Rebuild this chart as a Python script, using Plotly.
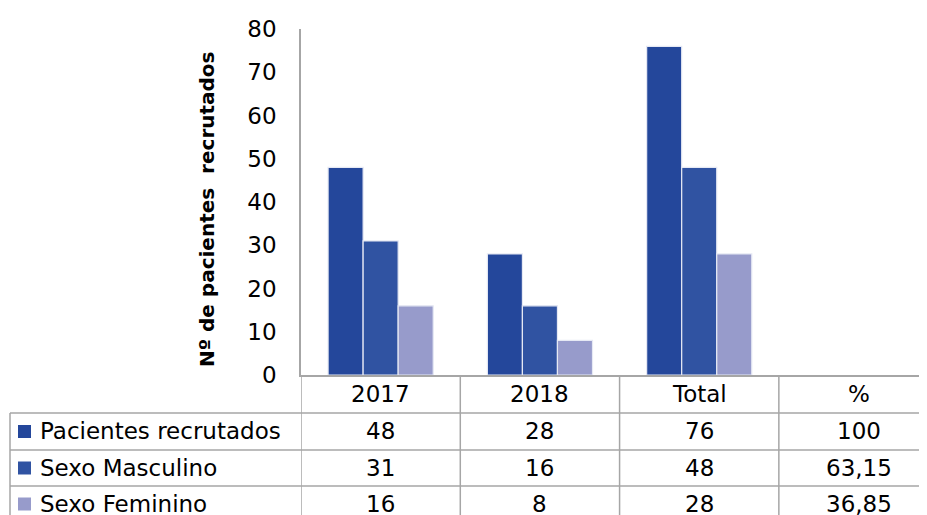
import plotly.graph_objects as go

# ---- data ----
categories = ["2017", "2018", "Total"]
table_columns = ["2017", "2018", "Total", "%"]
series_names = ["Pacientes recrutados", "Sexo Masculino", "Sexo Feminino"]
pacientes = [48, 28, 76]
masculino = [31, 16, 48]
feminino = [16, 8, 28]
percent = ["100", "63,15", "36,85"]
y_ticks = [0, 10, 20, 30, 40, 50, 60, 70, 80]
y_title = "Nº de pacientes  recrutados"

colors = ["#24479B", "#3053A2", "#979BCB"]
series_values = [pacientes, masculino, feminino]

# page has an 8px body margin: work in page pixels and convert
OFF = 8
W, H = 927 - OFF, 515 - OFF
PL, PT, PB = 301, 29, 375          # plot left, top, bottom in page pixels
L = PL - OFF
T = PT - OFF
B = H - (PB - OFF)
R = 0
plot_w = W - L - R
plot_h = H - T - B

def py(Y):
    return (PB - Y) / plot_h

def px(X):
    return (X - PL) / plot_w

FONT = "DejaVu Sans"
GRAY = "#A6A6A6"

fig = go.Figure()
for name, vals, col in zip(series_names, series_values, colors):
    fig.add_trace(go.Bar(
        x=categories, y=vals, name=name,
        marker=dict(color=col, line=dict(color="#E6E9F4", width=1.2)),
    ))

shapes = []
annotations = []

# table horizontal lines
for Y in [413, 450, 486]:
    shapes.append(dict(type="line", xref="paper", yref="paper",
                       x0=px(10), x1=1.02, y0=py(Y), y1=py(Y),
                       line=dict(color=GRAY, width=1.5)))
# left border of table
shapes.append(dict(type="line", xref="paper", yref="paper",
                   x0=px(10), x1=px(10), y0=py(413), y1=py(530),
                   line=dict(color=GRAY, width=1.5)))
# vertical column separators
for xi in [-0.5, 0.5, 1.5, 2.5]:
    shapes.append(dict(type="line", xref="x", yref="paper",
                       x0=xi, x1=xi, y0=0, y1=py(530),
                       line=dict(color=GRAY, width=1.5)))

# header row
for i, c in enumerate(table_columns):
    annotations.append(dict(xref="x", yref="paper", x=i, y=py(394), text=c,
                            showarrow=False, font=dict(family=FONT, size=23, color="#000"),
                            xanchor="center", yanchor="middle"))

row_centers = [431.5, 468, 504]
for r, (name, vals, col) in enumerate(zip(series_names, series_values, colors)):
    yc = row_centers[r]
    shapes.append(dict(type="rect", xref="paper", yref="paper",
                       x0=px(18), x1=px(31), y0=py(yc - 6.5), y1=py(yc + 6.5),
                       fillcolor=col, line=dict(width=0)))
    annotations.append(dict(xref="paper", yref="paper", x=px(38), y=py(yc), text=name,
                            showarrow=False, font=dict(family=FONT, size=23, color="#000"),
                            xanchor="left", yanchor="middle"))
    row_vals = [str(v) for v in vals] + [percent[r]]
    for i, v in enumerate(row_vals):
        annotations.append(dict(xref="x", yref="paper", x=i, y=py(yc), text=v,
                                showarrow=False, font=dict(family=FONT, size=23, color="#000"),
                                xanchor="center", yanchor="middle"))

# y-axis title
annotations.append(dict(xref="paper", yref="paper", x=px(207), y=py(209), text="<b>" + y_title + "</b>",
                        textangle=-90, showarrow=False,
                        font=dict(family=FONT, size=20, color="#000"),
                        xanchor="center", yanchor="middle"))

fig.update_layout(
    width=W, height=H,
    margin=dict(l=L, r=R, t=T, b=B, pad=0),
    paper_bgcolor="white", plot_bgcolor="white",
    barmode="group", bargap=0.34, bargroupgap=0.0,
    showlegend=False,
    shapes=shapes, annotations=annotations,
    xaxis=dict(type="category", categoryorder="array", categoryarray=table_columns,
               range=[-0.5, 3.43], showticklabels=False, showgrid=False,
               showline=True, linecolor=GRAY, linewidth=1.5, zeroline=False, fixedrange=True),
    yaxis=dict(range=[0, 80], tickvals=y_ticks, showgrid=False, zeroline=False,
               showline=True, linecolor=GRAY, linewidth=1.5,
               ticks="", ticklabelstandoff=18,
               tickfont=dict(family=FONT, size=23, color="#000")),
)

fig.write_html("out.html")
